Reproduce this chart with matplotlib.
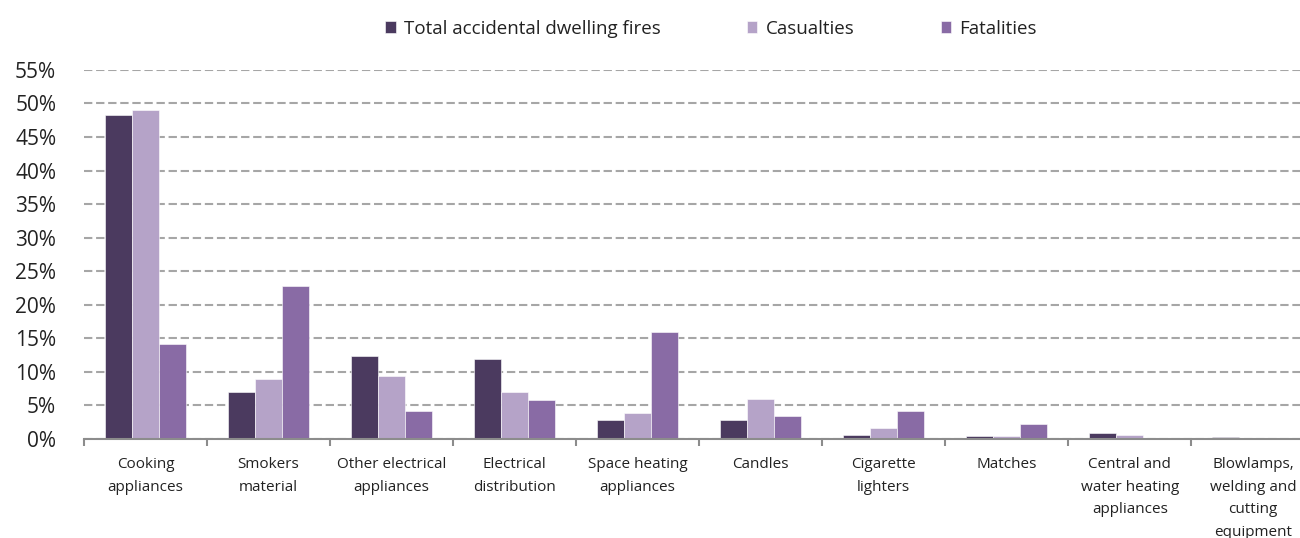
import numpy as np
import matplotlib.pyplot as plt
from matplotlib.ticker import FixedLocator, PercentFormatter

categories = [
    "Cooking\nappliances",
    "Smokers\nmaterial",
    "Other electrical\nappliances",
    "Electrical\ndistribution",
    "Space heating\nappliances",
    "Candles",
    "Cigarette\nlighters",
    "Matches",
    "Central and\nwater heating\nappliances",
    "Blowlamps,\nwelding and\ncutting\nequipment",
]
total_fires = [48.3, 7.0, 12.3, 11.9, 2.9, 2.9, 0.6, 0.45, 0.85, 0.3]
casualties = [49.1, 8.9, 9.4, 7.0, 3.9, 6.0, 1.6, 0.4, 0.6, 0.0]
fatalities = [14.2, 22.8, 4.1, 5.8, 16.0, 3.5, 4.2, 2.2, 0.0, 0.0]

series = [
    ("Total accidental dwelling fires", total_fires, "#4b3a5f"),
    ("Casualties", casualties, "#b5a3c8"),
    ("Fatalities", fatalities, "#896ba5"),
]

plt.rcParams['font.family'] = ['Open Sans', 'DejaVu Sans']

fig = plt.figure(figsize=(13, 5.38), dpi=100)
ax = fig.add_axes([0.0646, 0.184, 0.9465, 0.686])

x = np.arange(len(categories))
width = 0.22
for i, (name, vals, color) in enumerate(series):
    ax.bar(x + (i - 1) * width, vals, width, color=color, label=name,
           edgecolor='white', linewidth=0.4, zorder=3)

ax.set_xlim(-0.5, len(categories) - 0.5)
ax.set_ylim(0, 55)
ax.set_yticks(np.arange(0, 56, 5))
ax.yaxis.set_major_formatter(PercentFormatter(decimals=0))
ax.grid(axis='y', color='#a6a6a6', linestyle=(0, (4, 1.8)), linewidth=1.5, zorder=0)

ax.set_xticks(x)
ax.set_xticklabels(categories, fontsize=11, color='#222222', linespacing=1.68)
ax.xaxis.set_minor_locator(FixedLocator(np.arange(-0.5, len(categories), 1.0)))
ax.tick_params(axis='x', which='major', length=0, pad=13)
ax.tick_params(axis='x', which='minor', length=5, width=1.5, color='#8c8c8c')
ax.tick_params(axis='y', length=0, labelsize=15, pad=20, labelcolor='#222222')

for side in ['left', 'right', 'top']:
    ax.spines[side].set_visible(False)
ax.spines['bottom'].set_color('#8c8c8c')
ax.spines['bottom'].set_linewidth(1.5)
ax.spines['bottom'].set_zorder(4)

fig.legend(loc='upper center', bbox_to_anchor=(0.547, 0.995), ncol=3, frameon=False,
           fontsize=13.5, handlelength=0.55, handleheight=0.55, handletextpad=0.45,
           columnspacing=4.6, labelcolor='#222222')

fig.savefig('out.png', dpi=100)
